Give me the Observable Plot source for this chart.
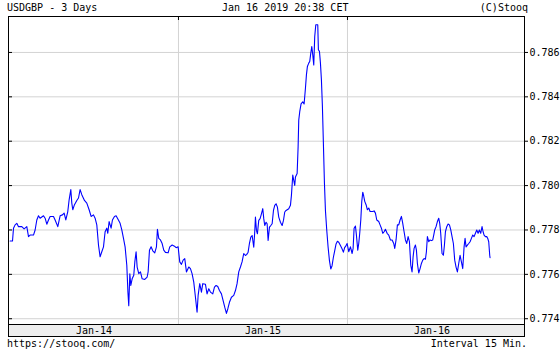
<!DOCTYPE html>
<html>
<head>
<meta charset="utf-8">
<script src="https://cdn.jsdelivr.net/npm/d3@7"></script>
<script src="https://cdn.jsdelivr.net/npm/@observablehq/plot@0.6"></script>
<style>
  html, body { margin: 0; padding: 0; background: #fff; }
  body { width: 560px; height: 350px; overflow: hidden; font-family: "DejaVu Sans Mono", monospace; font-size: 10px; color: #000; }
  .row { position: relative; width: 560px; }
  .row span { position: absolute; white-space: pre; }
  #head { height: 15px; line-height: 15px; }
  #foot { height: 12px; line-height: 12px; }
  svg { display: block; }
</style>
</head>
<body>
<div id="head" class="row">
  <span style="left:7px">USDGBP - 3 Days</span>
  <span style="left:222px">Jan 16 2019 20:38 CET</span>
  <span style="right:32px">(C)Stooq</span>
</div>
<div id="chart"></div>
<div id="foot" class="row">
  <span style="left:7px">https://stooq.com/</span>
  <span style="right:33px">Interval 15 Min.</span>
</div>
<script>
// hours since Jan 14 2019 00:00
const hours = [
  0.09,0.43,0.57,0.80,1.04,1.28,1.75,2.08,2.46,2.70,2.93,3.41,3.64,3.88,4.12,4.35,4.83,5.06,5.30,5.54,
  5.77,6.25,6.48,6.86,7.19,7.52,7.76,8.00,8.28,8.47,8.71,8.85,8.99,9.23,9.56,9.80,10.03,10.27,10.65,10.98,
  11.31,11.59,11.93,12.16,12.40,12.64,12.87,13.11,13.35,13.58,13.82,13.96,14.15,14.43,14.62,14.91,15.14,15.47,15.71,15.95,
  16.19,16.42,16.66,16.82,16.94,17.09,17.23,17.42,17.65,17.80,17.98,18.13,18.36,18.60,18.84,19.21,19.55,19.69,19.88,20.11,
  20.35,20.63,20.87,21.01,21.20,21.44,21.68,21.91,22.15,22.53,22.76,23.10,23.43,23.66,23.95,24.18,24.42,24.66,24.89,25.13,
  25.46,25.70,25.93,26.17,26.41,26.64,26.79,27.02,27.26,27.45,27.83,28.06,28.30,28.54,28.87,29.11,29.34,29.58,29.82,30.10,
  30.34,30.57,30.81,31.00,31.24,31.52,31.85,32.09,32.32,32.56,32.80,33.03,33.27,33.51,33.70,33.89,34.08,34.27,34.46,34.69,
  34.84,34.93,35.07,35.21,35.40,35.59,35.78,35.97,36.11,36.25,36.44,36.59,36.73,36.92,37.11,37.30,37.49,37.67,37.86,38.05,
  38.24,38.48,38.72,38.91,39.09,39.28,39.66,39.90,40.04,40.23,40.37,40.51,40.61,40.85,40.99,41.08,41.22,41.41,41.65,41.84,
  42.03,42.17,42.31,42.50,42.64,42.79,42.93,43.07,43.21,43.35,43.50,43.78,43.87,44.02,44.16,44.30,44.44,44.58,44.73,44.87,
  45.06,45.25,45.44,45.63,45.81,46.00,46.19,46.38,46.57,46.76,47.00,47.23,47.42,47.61,47.71,47.95,48.18,48.42,48.66,48.80,
  48.94,49.13,49.27,49.46,49.60,49.74,49.89,50.03,50.17,50.31,50.45,50.64,50.83,51.02,51.21,51.59,51.78,51.97,52.16,52.44,
  52.63,52.82,53.01,53.20,53.39,53.63,53.86,54.10,54.34,54.57,54.71,54.90,55.09,55.28,55.47,55.66,55.85,56.04,56.23,56.42,
  56.61,56.80,56.99,57.17,57.32,57.46,57.65,57.79,57.93,58.12,58.31,58.50,58.69,58.88,59.07,59.21,59.35,59.54,59.73,59.92,
  60.11,60.25,60.39,60.58,60.77,60.96,61.10,61.24,61.43,61.62,61.77,61.91,62.10,62.29,62.48,62.67,62.85,63.04,63.23,63.42,
  63.61,63.80,63.99,64.18,64.37,64.56,64.70,64.84,65.03,65.22,65.41,65.60,65.79,65.98,66.17,66.36,66.55,66.73,66.92,67.11,
  67.26,67.40,67.59,67.78,67.92,68.06,68.20,68.25
];
const rates = [
  0.77750,0.77750,0.77808,0.77823,0.77830,0.77815,0.77815,0.77805,0.77815,0.77770,0.77777,0.77777,0.77800,0.77845,0.77864,0.77853,0.77864,0.77853,0.77826,0.77845,
  0.77861,0.77861,0.77845,0.77815,0.77864,0.77868,0.77876,0.77845,0.77883,0.77936,0.77982,0.77921,0.77891,0.77914,0.77933,0.77944,0.77982,0.77959,0.77933,0.77921,
  0.77891,0.77861,0.77868,0.77853,0.77823,0.77732,0.77679,0.77702,0.77724,0.77792,0.77808,0.77785,0.77838,0.77808,0.77845,0.77861,0.77864,0.77845,0.77830,0.77800,
  0.77762,0.77724,0.77641,0.77520,0.77459,0.77603,0.77550,0.77580,0.77596,0.77656,0.77702,0.77633,0.77603,0.77611,0.77580,0.77577,0.77588,0.77611,0.77709,0.77724,
  0.77706,0.77697,0.77724,0.77803,0.77762,0.77755,0.77739,0.77709,0.77699,0.77697,0.77724,0.77732,0.77727,0.77720,0.77724,0.77656,0.77645,0.77664,0.77671,0.77611,
  0.77633,0.77626,0.77603,0.77565,0.77497,0.77429,0.77505,0.77558,0.77520,0.77558,0.77555,0.77512,0.77535,0.77520,0.77512,0.77542,0.77550,0.77545,0.77527,0.77512,
  0.77482,0.77452,0.77424,0.77444,0.77474,0.77497,0.77505,0.77527,0.77558,0.77611,0.77633,0.77656,0.77694,0.77685,0.77690,0.77700,0.77740,0.77768,0.77775,0.77722,
  0.77798,0.77858,0.77798,0.77783,0.77843,0.77851,0.77873,0.77896,0.77851,0.77820,0.77835,0.77828,0.77753,0.77813,0.77820,0.77828,0.77888,0.77911,0.77918,0.77903,
  0.77858,0.77835,0.77820,0.77843,0.77881,0.77888,0.77896,0.77911,0.77956,0.78047,0.78024,0.78001,0.78039,0.78054,0.78175,0.78295,0.78333,0.78368,0.78378,0.78368,
  0.78439,0.78499,0.78537,0.78552,0.78559,0.78597,0.78627,0.78589,0.78544,0.78672,0.78725,0.78725,0.78612,0.78605,0.78552,0.78476,0.78356,0.78190,0.78009,0.77888,
  0.77798,0.77722,0.77662,0.77624,0.77639,0.77677,0.77707,0.77737,0.77749,0.77745,0.77730,0.77715,0.77700,0.77722,0.77724,0.77739,0.77702,0.77724,0.77694,0.77717,
  0.77808,0.77818,0.77777,0.77709,0.77739,0.77785,0.77845,0.77929,0.77970,0.77952,0.77929,0.77914,0.77891,0.77899,0.77883,0.77883,0.77886,0.77876,0.77845,0.77838,
  0.77823,0.77808,0.77785,0.77792,0.77803,0.77785,0.77777,0.77755,0.77755,0.77739,0.77717,0.77755,0.77823,0.77823,0.77845,0.77861,0.77830,0.77792,0.77755,0.77739,
  0.77770,0.77747,0.77641,0.77611,0.77679,0.77717,0.77732,0.77709,0.77649,0.77606,0.77626,0.77649,0.77664,0.77671,0.77668,0.77702,0.77770,0.77747,0.77755,0.77752,
  0.77755,0.77777,0.77800,0.77815,0.77838,0.77853,0.77830,0.77785,0.77694,0.77686,0.77732,0.77792,0.77815,0.77827,0.77823,0.77800,0.77770,0.77739,0.77664,0.77633,
  0.77611,0.77649,0.77686,0.77656,0.77626,0.77724,0.77762,0.77724,0.77732,0.77739,0.77747,0.77762,0.77777,0.77770,0.77785,0.77800,0.77785,0.77800,0.77785,0.77815,
  0.77792,0.77777,0.77770,0.77770,0.77762,0.77747,0.77686,0.77675
];
const yTicks = [0.774, 0.776, 0.778, 0.780, 0.782, 0.784, 0.786];
const dayBounds = [24, 48];
const dayCenters = [12, 36, 60];
const dayLabels = ["Jan-14", "Jan-15", "Jan-16"];

const data = hours.map((h, i) => ({h, v: rates[i]}));

const W = 560, H = 323, mL = 8, mR = 36, mT = 1, mB = 14;
const plotW = W - mL - mR, plotH = H - mT - mB;
const bandH = 12;

const band = (index, scales, values, dims) => {
  const g = d3.create("svg:g");
  g.append("rect")
    .attr("x", dims.marginLeft + 0.5)
    .attr("y", dims.height - dims.marginBottom + 0.5)
    .attr("width", dims.width - dims.marginLeft - dims.marginRight)
    .attr("height", bandH)
    .attr("fill", "#eeeeee")
    .attr("stroke", "#000");
  return g.node();
};

const chart = Plot.plot({
  width: W,
  height: H,
  marginLeft: mL,
  marginRight: mR,
  marginTop: mT,
  marginBottom: mB,
  style: {fontFamily: "DejaVu Sans Mono, monospace", fontSize: "10px", color: "#000", background: "#fff"},
  x: {domain: [-0.14, 73.14]},
  y: {domain: [0.77374, 0.78762]},
  marks: [
    band,
    Plot.gridY(yTicks, {stroke: "#d3d3d3", strokeOpacity: 1}),
    Plot.gridX(dayBounds, {stroke: "#d3d3d3", strokeOpacity: 1}),
    Plot.line(data, {x: "h", y: "v", stroke: "#0000ff", strokeWidth: 1.1}),
    Plot.tickY(yTicks, {stroke: "#000", insetRight: plotW - 4}),
    Plot.tickX(dayBounds, {stroke: "#000", insetBottom: plotH - 4}),
    Plot.frame({stroke: "#000"}),
    Plot.axisY(yTicks, {anchor: "right", tickSize: 3, tickPadding: 2, tickFormat: d3.format(".3f"), label: null}),
    Plot.axisX(dayCenters, {anchor: "bottom", tickSize: 0, tickPadding: 2, tickFormat: (d, i) => dayLabels[i], label: null})
  ]
});
document.getElementById("chart").appendChild(chart);
</script>
</body>
</html>
